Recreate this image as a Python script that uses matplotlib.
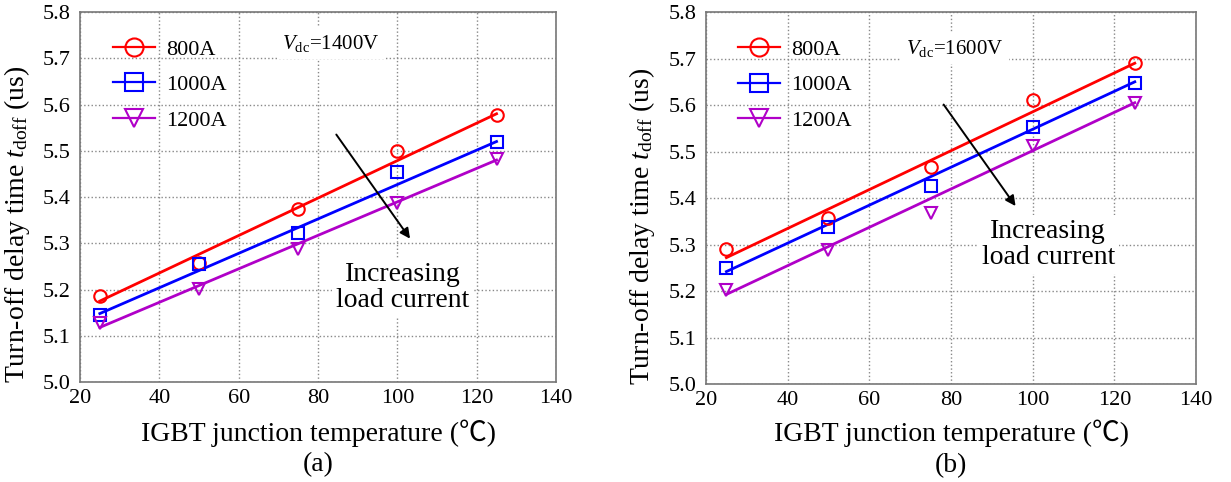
import numpy as np
import matplotlib
import matplotlib.pyplot as plt

matplotlib.use("Agg")

plt.rcParams["font.family"] = "Liberation Serif"
plt.rcParams["mathtext.fontset"] = "custom"
plt.rcParams["mathtext.rm"] = "Liberation Serif"
plt.rcParams["mathtext.it"] = "Liberation Serif:italic"
LABEL_FONTS = ["Liberation Serif", "Noto Sans CJK SC"]

# junction temperature (C)
temps = [25, 50, 75, 100, 125]
labels = ["800A", "1000A", "1200A"]

# measured points, Vdc = 1400 V
meas_1400 = {
    "800A": [5.185, 5.258, 5.375, 5.500, 5.577],
    "1000A": [5.145, 5.255, 5.322, 5.455, 5.520],
    "1200A": [5.127, 5.202, 5.288, 5.387, 5.482],
}
# fitted line ends (at 25 and 125 C), Vdc = 1400 V
fit_1400 = {
    "800A": [5.175, 5.580],
    "1000A": [5.148, 5.520],
    "1200A": [5.118, 5.480],
}

# measured points, Vdc = 1600 V
meas_1600 = {
    "800A": [5.290, 5.357, 5.466, 5.610, 5.690],
    "1000A": [5.250, 5.337, 5.425, 5.552, 5.648],
    "1200A": [5.202, 5.288, 5.367, 5.512, 5.605],
}
fit_1600 = {
    "800A": [5.272, 5.690],
    "1000A": [5.242, 5.650],
    "1200A": [5.193, 5.605],
}

colors = {"800A": "#ff0000", "1000A": "#0000ff", "1200A": "#b000c8"}
markers = {"800A": "o", "1000A": "s", "1200A": "v"}

fig = plt.figure(figsize=(12.31, 4.82), dpi=100)
ax_a = fig.add_axes([0.065, 0.2075, 0.3867, 0.7675])
ax_b = fig.add_axes([0.5735, 0.203, 0.3981, 0.772])


def draw_panel(ax, meas, fit, vdc, vdc_pos, arrow_from, arrow_to, text_pos,
               tag, leg_anchor, ylab_x, xlab_y):
    for name in labels:
        c = colors[name]
        ax.plot([temps[0], temps[-1]], fit[name], color=c, lw=2.0, zorder=3)
        ax.plot(temps, meas[name], linestyle="none", marker=markers[name],
                markersize=9, markerfacecolor="none", markeredgecolor=c,
                markeredgewidth=1.5, zorder=4)
    # legend handles: line with marker in middle
    handles = [plt.Line2D([], [], color=colors[n], lw=1.6, marker=markers[n],
                          markersize=13, markerfacecolor="none",
                          markeredgecolor=colors[n], markeredgewidth=1.5)
               for n in labels]
    ax.legend(handles, labels, loc="upper left", bbox_to_anchor=leg_anchor,
              frameon=False, fontsize=16, handlelength=1.9,
              labelspacing=0.68, borderpad=0, borderaxespad=0,
              handletextpad=0.5)

    ax.text(vdc_pos[0], vdc_pos[1], r"$V_{\rm dc}$=" + vdc, fontsize=15,
            ha="left", va="center",
            bbox=dict(facecolor="white", edgecolor="none", pad=4), zorder=5)
    ax.annotate("", xy=arrow_to, xytext=arrow_from,
                arrowprops=dict(arrowstyle="-|>", color="black", lw=1.4,
                                mutation_scale=15), zorder=6)
    ax.text(text_pos[0], text_pos[1], "Increasing\nload current", fontsize=20,
            ha="center", va="center", linespacing=1.05,
            bbox=dict(facecolor="white", edgecolor="none", pad=3), zorder=5)

    ax.set_xlim(20, 140)
    ax.set_ylim(5.0, 5.8)
    ax.set_xticks(np.arange(20, 141, 20))
    ax.set_yticks(np.arange(5.0, 5.81, 0.1))
    ax.set_yticklabels([f"{v:.1f}" for v in np.arange(5.0, 5.81, 0.1)])
    ax.tick_params(labelsize=16, length=0)
    ax.tick_params(axis="y", pad=7)
    ax.tick_params(axis="x", pad=5)
    ax.grid(True, linestyle=":", color="#888888", lw=1.0)
    for s in ax.spines.values():
        s.set_color("#777777")
        s.set_linewidth(1.2)
    ax.set_xlabel("IGBT junction temperature (\u2103)", fontsize=20,
                  family=LABEL_FONTS)
    ax.xaxis.set_label_coords(0.5, xlab_y)
    ax.xaxis.label.set_va("center")
    ax.text(0.5, xlab_y - 0.086, "(" + tag + ")", transform=ax.transAxes,
            fontsize=20, ha="center", va="center")
    ax.set_ylabel(r"Turn-off delay time $t_{\rm doff}$ (us)", fontsize=20)
    ax.yaxis.set_label_coords(ylab_x, 0.425)


draw_panel(ax_a, meas_1400, fit_1400, "1400V", (71, 5.733),
           (84.2, 5.54), (103.6, 5.305), (101.4, 5.205), "a",
           (0.069, 0.927), -0.100, -0.138)
draw_panel(ax_b, meas_1600, fit_1600, "1600V", (69, 5.722),
           (77.8, 5.606), (96.2, 5.378), (103.8, 5.30), "b",
           (0.065, 0.927), -0.100, -0.132)

fig.savefig("out.png", dpi=100)
